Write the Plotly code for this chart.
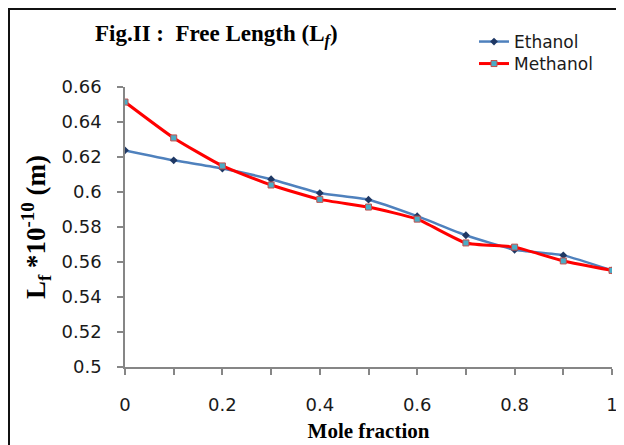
import plotly.graph_objects as go

mole_fraction = [0, 0.1, 0.2, 0.3, 0.4, 0.5, 0.6, 0.7, 0.8, 0.9, 1.0]
ethanol = [0.6238, 0.6181, 0.6134, 0.6073, 0.5994, 0.5956, 0.5862, 0.5753, 0.5670, 0.5638, 0.5552]
methanol = [0.6514, 0.6309, 0.6149, 0.6040, 0.5958, 0.5914, 0.5845, 0.5709, 0.5685, 0.5606, 0.5552]

y_ticks = [0.5, 0.52, 0.54, 0.56, 0.58, 0.6, 0.62, 0.64, 0.66]
y_tick_text = ["0.5", "0.52", "0.54", "0.56", "0.58", "0.6", "0.62", "0.64", "0.66"]
x_ticks = [0, 0.2, 0.4, 0.6, 0.8, 1.0]
x_tick_text = ["0", "0.2", "0.4", "0.6", "0.8", "1"]

# page has an 8px body margin; figure sized to fit the 624x445 window
W, H = 616, 437
L, R, T, B = 117, 12, 79, 78
PW, PH = W - L - R, H - T - B


def px(xf):
    return (xf - L) / PW


def py(yf):
    return 1 - (yf - T) / PH


SERIF = "Liberation Serif, Times New Roman, serif"
SANS = "DejaVu Sans, Verdana, sans-serif"

fig = go.Figure()
fig.add_trace(go.Scatter(
    x=mole_fraction, y=ethanol, name="Ethanol", mode="lines+markers",
    line=dict(color="#4F81BD", width=2.5, shape="spline", smoothing=0.5),
    marker=dict(symbol="diamond", size=6, color="#1F3864"),
    legend="legend",
))
fig.add_trace(go.Scatter(
    x=mole_fraction, y=methanol, name="Methanol", mode="lines+markers",
    line=dict(color="#FF0000", width=3, shape="spline", smoothing=0.5),
    marker=dict(symbol="square", size=6, color="#4BACC6",
                line=dict(color="#C0504D", width=1)),
    legend="legend2",
))

legend_style = dict(xanchor="left", yanchor="top",
                    font=dict(family=SANS, size=17, color="#1a1a1a"),
                    bgcolor="rgba(0,0,0,0)")

fig.update_layout(
    width=W, height=H,
    margin=dict(l=L, r=R, t=T, b=B, autoexpand=False),
    paper_bgcolor="white", plot_bgcolor="white",
    font=dict(family=SANS, size=18, color="#1a1a1a"),
    showlegend=True,
    legend=dict(x=px(466), y=py(16), **legend_style),
    legend2=dict(x=px(466), y=py(38), **legend_style),
    annotations=[
        dict(text="<b>Fig.II :  Free Length (L<sub><i>f</i></sub>)</b>",
             xref="paper", yref="paper", x=px(208), y=py(27),
             xanchor="center", yanchor="middle", showarrow=False,
             font=dict(family=SERIF, size=23, color="#000")),
    ],
    shapes=[
        dict(type="rect", xref="paper", yref="paper",
             x0=px(1), x1=px(W + 20), y0=py(H + 20), y1=py(1),
             line=dict(color="#111", width=2), layer="below"),
    ],
)

fig.update_xaxes(
    range=[0, 1], tickvals=x_ticks, ticktext=x_tick_text, automargin=False,
    showgrid=False, zeroline=False, showline=True, linecolor="#868686", linewidth=1.5,
    ticks="outside", ticklen=6, tickcolor="#868686", tickwidth=1.5,
    minor=dict(dtick=0.1, ticks="outside", ticklen=6, tickcolor="#868686", tickwidth=1.5, showgrid=False),
    tickfont=dict(size=18), ticklabelstandoff=15,
    title=dict(text="<b>Mole fraction</b>", standoff=9,
               font=dict(family=SERIF, size=21, color="#000")),
)
fig.update_yaxes(
    range=[0.5, 0.66], tickvals=y_ticks, ticktext=y_tick_text, automargin=False,
    showgrid=False, zeroline=False, showline=True, linecolor="#868686", linewidth=1.5,
    ticks="outside", ticklen=6, tickcolor="#868686", tickwidth=1.5,
    tickfont=dict(size=18), ticklabelstandoff=12,
    title=dict(text="<b>L<sub>f</sub> *10<sup>-10</sup> (m)</b>", standoff=8,
               font=dict(family=SERIF, size=27, color="#000")),
)

fig.write_html("out.html")
